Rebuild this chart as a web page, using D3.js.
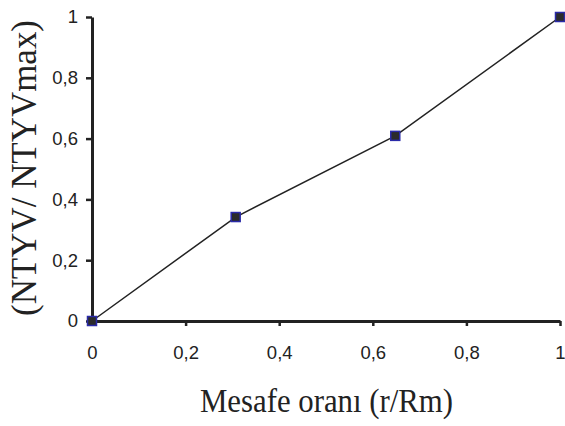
<!DOCTYPE html>
<html>
<head>
<meta charset="utf-8">
<script src="https://cdn.jsdelivr.net/npm/d3@7"></script>
<style>
  body { margin: 0; background: #fff; }
</style>
</head>
<body>
<svg id="chart"></svg>
<script>
const xValues = [0, 0.307, 0.648, 1]
const yValues = [0, 0.342, 0.609, 1]
const tickValues = [0, 0.2, 0.4, 0.6, 0.8, 1]
const tickLabels = ['0', '0,2', '0,4', '0,6', '0,8', '1']
const xTitle = 'Mesafe oranı (r/Rm)'
const yTitle = '(NTYV/ NTYVmax)'

const width = 565, height = 426
const svg = d3.select('#chart')
  .attr('width', width)
  .attr('height', height)

const xScale = d3.scaleLinear().domain([0, 1]).range([92, 560])
const yScale = d3.scaleLinear().domain([0, 1]).range([321, 17])

const fmt = d => tickLabels[tickValues.indexOf(d)]

svg.append('g')
  .attr('class', 'axis')
  .attr('transform', `translate(0, ${yScale(0)})`)
  .call(d3.axisBottom(xScale).tickValues(tickValues).tickFormat(fmt).tickSize(5).tickPadding(20).tickSizeOuter(0))
svg.append('g')
  .attr('class', 'axis')
  .attr('transform', `translate(${xScale(0)}, 0)`)
  .call(d3.axisLeft(yScale).tickValues(tickValues).tickFormat(fmt).tickSize(6).tickPadding(8).tickSizeOuter(0))

svg.selectAll('.axis text')
  .style('font-family', '"Liberation Sans", Arial, sans-serif')
  .style('font-size', '18.5px')
  .attr('fill', '#222')
svg.selectAll('.domain').attr('stroke', '#222').attr('stroke-width', 3)
svg.selectAll('.tick line').attr('stroke', '#222').attr('stroke-width', 2.5)

const pts = xValues.map((x, i) => [x, yValues[i]])

svg.append('path')
  .datum(pts)
  .attr('fill', 'none')
  .attr('stroke', '#222')
  .attr('stroke-width', 1.5)
  .attr('d', d3.line().x(d => xScale(d[0])).y(d => yScale(d[1])))

svg.selectAll('.pt')
  .data(pts)
  .enter().append('rect')
    .attr('class', 'pt')
    .attr('x', d => xScale(d[0]) - 4.5)
    .attr('y', d => yScale(d[1]) - 4.5)
    .attr('width', 9)
    .attr('height', 9)
    .attr('fill', '#2b2b2b')
    .attr('stroke', '#2a2aa8')
    .attr('stroke-width', 1.5)

svg.append('text')
  .attr('x', 200)
  .attr('y', 412)
  .attr('textLength', 253)
  .attr('lengthAdjust', 'spacingAndGlyphs')
  .attr('font-family', '"Liberation Serif", "Times New Roman", serif')
  .attr('font-size', 34)
  .attr('fill', '#222')
  .text(xTitle)

svg.append('text')
  .attr('transform', `translate(36, 316) rotate(-90)`)
  .attr('textLength', 296)
  .attr('lengthAdjust', 'spacingAndGlyphs')
  .attr('font-family', '"Liberation Serif", "Times New Roman", serif')
  .attr('font-size', 36)
  .attr('fill', '#222')
  .text(yTitle)
</script>
</body>
</html>
